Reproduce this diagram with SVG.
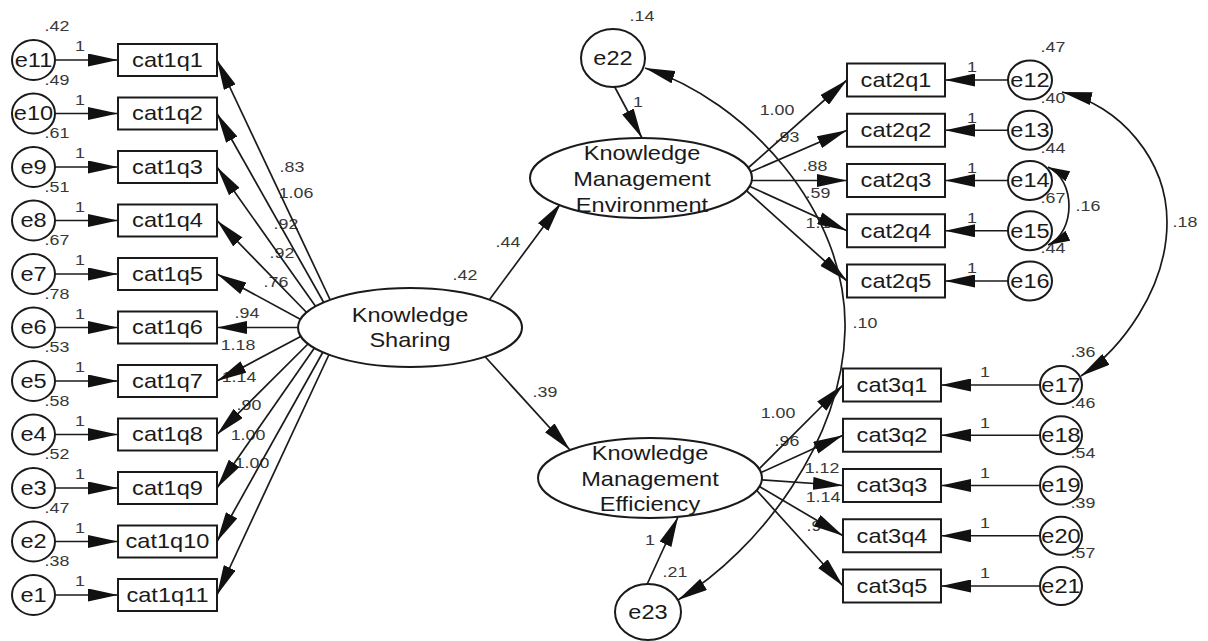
<svg xmlns="http://www.w3.org/2000/svg" width="1208" height="641" viewBox="0 0 1208 641">
<style>
text { font-family: "Liberation Sans", Arial, sans-serif; transform-box: fill-box; transform-origin: center; transform: scaleX(1.15); }
.n { font-size: 20.5px; fill: #1a1a1a; text-anchor: middle; }
.l { font-size: 15.5px; fill: #383838; text-anchor: middle; }
.c { fill: none; stroke: #1a1a1a; stroke-width: 1.7; marker-end: url(#ah); }
.cv { fill: none; stroke: #1a1a1a; stroke-width: 1.7; marker-start: url(#ah); marker-end: url(#ah); }
.cvs { fill: none; stroke: #1a1a1a; stroke-width: 1.7; marker-start: url(#ahs); marker-end: url(#ahs); }
.box { fill: none; stroke: #1a1a1a; stroke-width: 2; }
.el { fill: #fff; stroke: #1a1a1a; stroke-width: 2; }
</style>
<defs>
<marker id="ah" viewBox="0 0 30 13" refX="30" refY="6.5" markerWidth="30" markerHeight="13" markerUnits="userSpaceOnUse" orient="auto-start-reverse"><path d="M0,0 L30,6.5 L0,13 z" fill="#111"/></marker>
<marker id="ahs" viewBox="0 0 22 11" refX="22" refY="5.5" markerWidth="22" markerHeight="11" markerUnits="userSpaceOnUse" orient="auto-start-reverse"><path d="M0,0 L22,5.5 L0,11 z" fill="#111"/></marker>
</defs>
<rect width="1208" height="641" fill="#fff"/>

<g id="labels" class="labels">
<text class="l" x="57" y="31.5">.42</text><text class="l" x="80" y="51.5">1</text>
<text class="l" x="57" y="85">.49</text><text class="l" x="80" y="105">1</text>
<text class="l" x="57" y="138.5">.61</text><text class="l" x="80" y="158.5">1</text>
<text class="l" x="57" y="192">.51</text><text class="l" x="80" y="212">1</text>
<text class="l" x="57" y="245.5">.67</text><text class="l" x="80" y="265.5">1</text>
<text class="l" x="57" y="299">.78</text><text class="l" x="80" y="319">1</text>
<text class="l" x="57" y="352.5">.53</text><text class="l" x="80" y="372.5">1</text>
<text class="l" x="57" y="406">.58</text><text class="l" x="80" y="426">1</text>
<text class="l" x="57" y="459.5">.52</text><text class="l" x="80" y="479.5">1</text>
<text class="l" x="57" y="513">.47</text><text class="l" x="80" y="533">1</text>
<text class="l" x="57" y="566.5">.38</text><text class="l" x="80" y="586.5">1</text>

<text class="l" x="292" y="172.5">.83</text>
<text class="l" x="296" y="198.5">1.06</text>
<text class="l" x="286" y="229.5">.92</text>
<text class="l" x="282" y="258.5">.92</text>
<text class="l" x="276" y="287.5">.76</text>
<text class="l" x="247" y="318.5">.94</text>
<text class="l" x="238" y="350.5">1.18</text>
<text class="l" x="239" y="382.5">1.14</text>
<text class="l" x="249" y="410.5">.90</text>
<text class="l" x="248" y="440.5">1.00</text>
<text class="l" x="252" y="468.5">1.00</text>

<text class="l" x="465" y="280.5">.42</text>
<text class="l" x="508" y="247.5">.44</text>
<text class="l" x="545" y="397.5">.39</text>
<text class="l" x="642" y="21.5">.14</text>
<text class="l" x="638" y="107.5">1</text>
<text class="l" x="650" y="545.5">1</text>
<text class="l" x="675" y="577.5">.21</text>

<text class="l" x="777" y="115.5">1.00</text>
<text class="l" x="787" y="142.5">.93</text>
<text class="l" x="815" y="171.5">.88</text>
<text class="l" x="818" y="198.5">.59</text>
<text class="l" x="818" y="228.5">1.1</text>

<text class="l" x="778" y="418.5">1.00</text>
<text class="l" x="787" y="446.5">.96</text>
<text class="l" x="822" y="473.5">1.12</text>
<text class="l" x="823" y="502.5">1.14</text>
<text class="l" x="814" y="531.5">.9</text>

<text class="l" x="865" y="328.5">.10</text>
<text class="l" x="1088" y="211.5">.16</text>
<text class="l" x="1185" y="227.5">.18</text>

<text class="l" x="1053" y="52.5">.47</text><text class="l" x="972" y="72.5">1</text>
<text class="l" x="1053" y="102.75">.40</text><text class="l" x="972" y="122.75">1</text>
<text class="l" x="1053" y="153">.44</text><text class="l" x="972" y="173">1</text>
<text class="l" x="1053" y="203.25">.67</text><text class="l" x="972" y="223.25">1</text>
<text class="l" x="1053" y="253.5">.44</text><text class="l" x="972" y="273.5">1</text>

<text class="l" x="1083" y="357.5">.36</text><text class="l" x="985" y="377.5">1</text>
<text class="l" x="1083" y="407.75">.46</text><text class="l" x="985" y="427.75">1</text>
<text class="l" x="1083" y="458">.54</text><text class="l" x="985" y="478">1</text>
<text class="l" x="1083" y="508.25">.39</text><text class="l" x="985" y="528.25">1</text>
<text class="l" x="1083" y="558.5">.57</text><text class="l" x="985" y="578.5">1</text>
</g>

<g id="connectors">
<path class="c" d="M40,60 L118,60"/>
<path class="c" d="M40,113.5 L118,113.5"/>
<path class="c" d="M40,167 L118,167"/>
<path class="c" d="M40,220.5 L118,220.5"/>
<path class="c" d="M40,274 L118,274"/>
<path class="c" d="M40,327.5 L118,327.5"/>
<path class="c" d="M40,381 L118,381"/>
<path class="c" d="M40,434.5 L118,434.5"/>
<path class="c" d="M40,488 L118,488"/>
<path class="c" d="M40,541.5 L118,541.5"/>
<path class="c" d="M40,595 L118,595"/>
<path class="c" d="M334,308 L217,60"/>
<path class="c" d="M328,310 L217,113.5"/>
<path class="c" d="M321,314 L217,167"/>
<path class="c" d="M313,319 L217,220.5"/>
<path class="c" d="M309,324 L217,274"/>
<path class="c" d="M310,327.5 L217,327.5"/>
<path class="c" d="M311,331 L217,381"/>
<path class="c" d="M315,337 L217,434.5"/>
<path class="c" d="M320,340 L217,488"/>
<path class="c" d="M328,343 L217,541.5"/>
<path class="c" d="M333,346 L217,595"/>
<path class="c" d="M484,307 L561,203"/>
<path class="c" d="M479,350 L570,450"/>
<path class="c" d="M611,80 L642,138"/>
<path class="c" d="M644,591 L678,517"/>
<path class="c" d="M739,176 L847,80"/>
<path class="c" d="M739,177 L847,130.25"/>
<path class="c" d="M741,180.5 L847,180.5"/>
<path class="c" d="M740,182 L847,230.75"/>
<path class="c" d="M739,184 L847,281"/>
<path class="c" d="M750,478 L843,385"/>
<path class="c" d="M749,478 L843,435.25"/>
<path class="c" d="M750,479 L843,485.5"/>
<path class="c" d="M750,481 L843,535.75"/>
<path class="c" d="M750,483 L843,586"/>
<path class="c" d="M1020,80 L945,80"/>
<path class="c" d="M1020,130.25 L945,130.25"/>
<path class="c" d="M1020,180.5 L945,180.5"/>
<path class="c" d="M1020,230.75 L945,230.75"/>
<path class="c" d="M1020,281 L945,281"/>
<path class="c" d="M1050,385 L941,385"/>
<path class="c" d="M1050,435.25 L941,435.25"/>
<path class="c" d="M1050,485.5 L941,485.5"/>
<path class="c" d="M1050,535.75 L941,535.75"/>
<path class="c" d="M1050,586 L941,586"/>
<path class="cv" d="M645,68 C745,100 848,210 845,330 C843,440 760,550 678,600"/>
<path class="cv" d="M1062,92 C1120,105 1167,160 1167,222 C1167,290 1120,350 1081,376"/>
<path class="cvs" d="M1048,167 C1076,180 1076,232 1048,245"/>
</g>

<g id="KS"><ellipse class="el" cx="410" cy="327.5" rx="112" ry="39.5"/><text class="n" x="410" y="322">Knowledge</text><text class="n" x="410" y="347">Sharing</text></g>
<g id="KME"><ellipse class="el" cx="641" cy="178" rx="111" ry="40"/><text class="n" x="642" y="160">Knowledge</text><text class="n" x="642" y="186">Management</text><text class="n" x="642" y="212">Environment</text></g>
<g id="KMEf"><ellipse class="el" cx="650" cy="478" rx="112" ry="40"/><text class="n" x="650" y="460">Knowledge</text><text class="n" x="650" y="486">Management</text><text class="n" x="650" y="511">Efficiency</text></g>
<g id="e22"><ellipse class="el" cx="613" cy="58" rx="32" ry="29"/><text class="n" x="613" y="65">e22</text></g>
<g id="e23"><ellipse class="el" cx="648" cy="612" rx="33" ry="28"/><text class="n" x="648" y="619">e23</text></g>

<g id="cat1q1"><rect class="box" x="118" y="44" width="99" height="32"/><text class="n" x="167.5" y="67">cat1q1</text></g>
<g id="cat1q2"><rect class="box" x="118" y="97.5" width="99" height="32"/><text class="n" x="167.5" y="120.5">cat1q2</text></g>
<g id="cat1q3"><rect class="box" x="118" y="151" width="99" height="32"/><text class="n" x="167.5" y="174">cat1q3</text></g>
<g id="cat1q4"><rect class="box" x="118" y="204.5" width="99" height="32"/><text class="n" x="167.5" y="227.5">cat1q4</text></g>
<g id="cat1q5"><rect class="box" x="118" y="258" width="99" height="32"/><text class="n" x="167.5" y="281">cat1q5</text></g>
<g id="cat1q6"><rect class="box" x="118" y="311.5" width="99" height="32"/><text class="n" x="167.5" y="334.5">cat1q6</text></g>
<g id="cat1q7"><rect class="box" x="118" y="365" width="99" height="32"/><text class="n" x="167.5" y="388">cat1q7</text></g>
<g id="cat1q8"><rect class="box" x="118" y="418.5" width="99" height="32"/><text class="n" x="167.5" y="441.5">cat1q8</text></g>
<g id="cat1q9"><rect class="box" x="118" y="472" width="99" height="32"/><text class="n" x="167.5" y="495">cat1q9</text></g>
<g id="cat1q10"><rect class="box" x="118" y="525.5" width="99" height="32"/><text class="n" x="167.5" y="548.5">cat1q10</text></g>
<g id="cat1q11"><rect class="box" x="118" y="579" width="99" height="32"/><text class="n" x="167.5" y="602">cat1q11</text></g>

<g id="e11"><ellipse class="el" cx="33.5" cy="60" rx="21.5" ry="20"/><text class="n" x="33.5" y="67">e11</text></g>
<g id="e10"><ellipse class="el" cx="33.5" cy="113.5" rx="21.5" ry="20"/><text class="n" x="33.5" y="120.5">e10</text></g>
<g id="e9"><ellipse class="el" cx="33.5" cy="167" rx="21.5" ry="20"/><text class="n" x="33.5" y="174">e9</text></g>
<g id="e8"><ellipse class="el" cx="33.5" cy="220.5" rx="21.5" ry="20"/><text class="n" x="33.5" y="227.5">e8</text></g>
<g id="e7"><ellipse class="el" cx="33.5" cy="274" rx="21.5" ry="20"/><text class="n" x="33.5" y="281">e7</text></g>
<g id="e6"><ellipse class="el" cx="33.5" cy="327.5" rx="21.5" ry="20"/><text class="n" x="33.5" y="334.5">e6</text></g>
<g id="e5"><ellipse class="el" cx="33.5" cy="381" rx="21.5" ry="20"/><text class="n" x="33.5" y="388">e5</text></g>
<g id="e4"><ellipse class="el" cx="33.5" cy="434.5" rx="21.5" ry="20"/><text class="n" x="33.5" y="441.5">e4</text></g>
<g id="e3"><ellipse class="el" cx="33.5" cy="488" rx="21.5" ry="20"/><text class="n" x="33.5" y="495">e3</text></g>
<g id="e2"><ellipse class="el" cx="33.5" cy="541.5" rx="21.5" ry="20"/><text class="n" x="33.5" y="548.5">e2</text></g>
<g id="e1"><ellipse class="el" cx="33.5" cy="595" rx="21.5" ry="20"/><text class="n" x="33.5" y="602">e1</text></g>

<g id="cat2q1"><rect class="box" x="847" y="63.5" width="98" height="33"/><text class="n" x="896" y="87">cat2q1</text></g>
<g id="cat2q2"><rect class="box" x="847" y="113.75" width="98" height="33"/><text class="n" x="896" y="137.25">cat2q2</text></g>
<g id="cat2q3"><rect class="box" x="847" y="164" width="98" height="33"/><text class="n" x="896" y="187.5">cat2q3</text></g>
<g id="cat2q4"><rect class="box" x="847" y="214.25" width="98" height="33"/><text class="n" x="896" y="237.75">cat2q4</text></g>
<g id="cat2q5"><rect class="box" x="847" y="264.5" width="98" height="33"/><text class="n" x="896" y="288">cat2q5</text></g>

<g id="e12"><ellipse class="el" cx="1030" cy="80" rx="22" ry="19.5"/><text class="n" x="1030" y="87">e12</text></g>
<g id="e13"><ellipse class="el" cx="1030" cy="130.25" rx="22" ry="19.5"/><text class="n" x="1030" y="137.25">e13</text></g>
<g id="e14"><ellipse class="el" cx="1030" cy="180.5" rx="22" ry="19.5"/><text class="n" x="1030" y="187.5">e14</text></g>
<g id="e15"><ellipse class="el" cx="1030" cy="230.75" rx="22" ry="19.5"/><text class="n" x="1030" y="237.75">e15</text></g>
<g id="e16"><ellipse class="el" cx="1030" cy="281" rx="22" ry="19.5"/><text class="n" x="1030" y="288">e16</text></g>

<g id="cat3q1"><rect class="box" x="843" y="368.5" width="98" height="33"/><text class="n" x="892" y="392">cat3q1</text></g>
<g id="cat3q2"><rect class="box" x="843" y="418.75" width="98" height="33"/><text class="n" x="892" y="442.25">cat3q2</text></g>
<g id="cat3q3"><rect class="box" x="843" y="469" width="98" height="33"/><text class="n" x="892" y="492.5">cat3q3</text></g>
<g id="cat3q4"><rect class="box" x="843" y="519.25" width="98" height="33"/><text class="n" x="892" y="542.75">cat3q4</text></g>
<g id="cat3q5"><rect class="box" x="843" y="569.5" width="98" height="33"/><text class="n" x="892" y="593">cat3q5</text></g>

<g id="e17"><ellipse class="el" cx="1061" cy="385" rx="21" ry="19"/><text class="n" x="1061" y="392">e17</text></g>
<g id="e18"><ellipse class="el" cx="1061" cy="435.25" rx="21" ry="19"/><text class="n" x="1061" y="442.25">e18</text></g>
<g id="e19"><ellipse class="el" cx="1061" cy="485.5" rx="21" ry="19"/><text class="n" x="1061" y="492.5">e19</text></g>
<g id="e20"><ellipse class="el" cx="1061" cy="535.75" rx="21" ry="19"/><text class="n" x="1061" y="542.75">e20</text></g>
<g id="e21"><ellipse class="el" cx="1061" cy="586" rx="21" ry="19"/><text class="n" x="1061" y="593">e21</text></g>
</svg>
